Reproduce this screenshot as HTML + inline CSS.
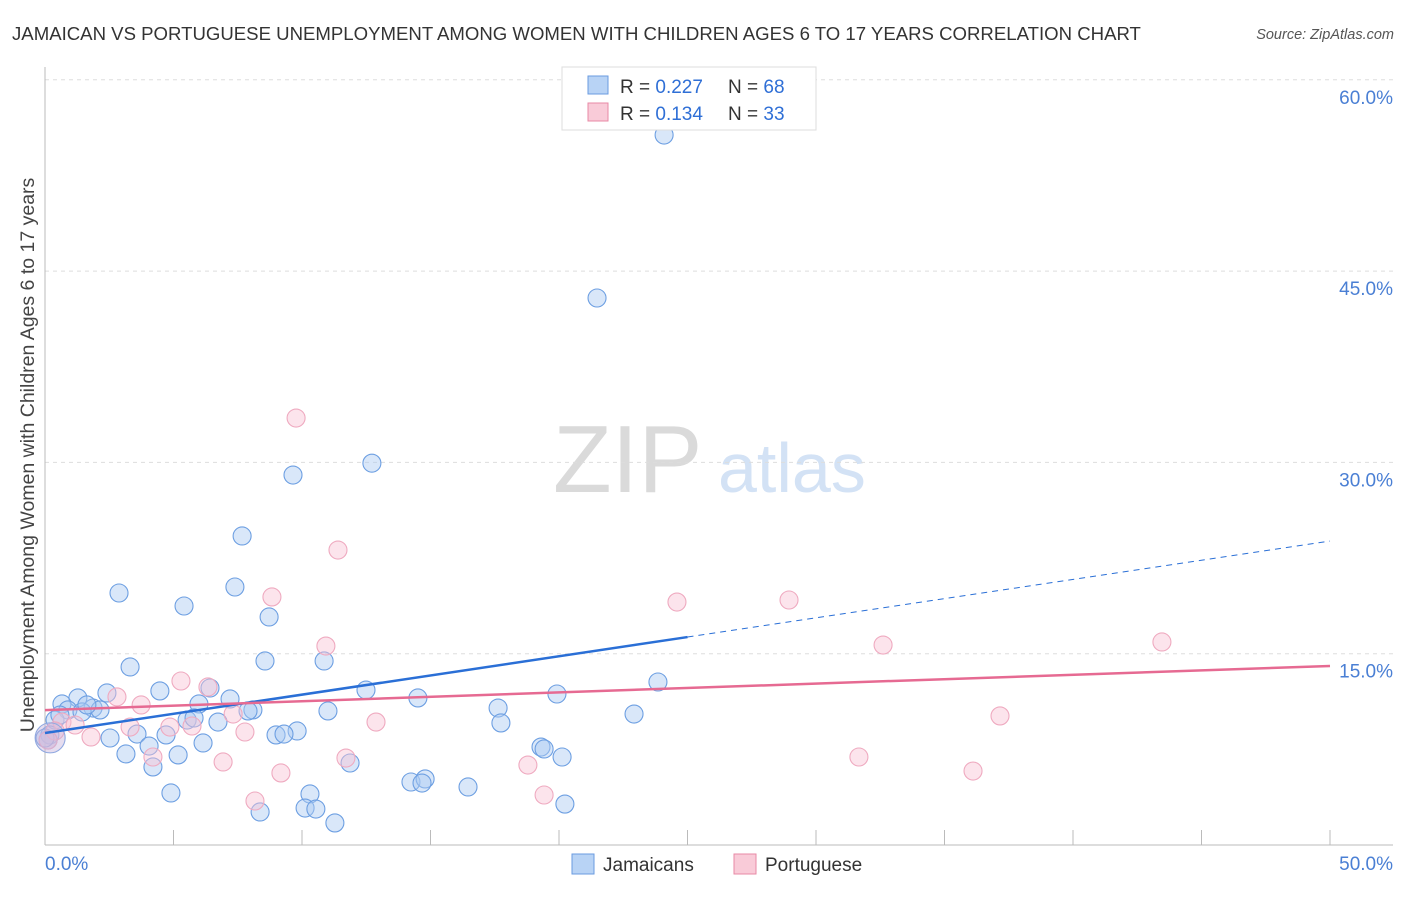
<!DOCTYPE html>
<html><head><meta charset="utf-8"><style>
body{margin:0;background:#fff;font-family:"Liberation Sans",sans-serif;}
svg text{font-family:"Liberation Sans",sans-serif;}
</style></head><body>
<svg id="chart" width="1406" height="892">
<text x="12" y="40" font-size="18.6" fill="#333">JAMAICAN VS PORTUGUESE UNEMPLOYMENT AMONG WOMEN WITH CHILDREN AGES 6 TO 17 YEARS CORRELATION CHART</text>
<text x="1394" y="39" font-size="14.5" fill="#555" font-style="italic" text-anchor="end">Source: ZipAtlas.com</text>
<g>
<text x="553" y="492" font-size="96" fill="#dadada" font-family="Liberation Serif,serif">ZIP</text>
<text x="718" y="492" font-size="70" fill="#d3e2f5">atlas</text>
</g>
<g id="grid"></g>
<g id="axes"></g>
<g id="marks"></g>
<text transform="translate(34,455) rotate(-90)" font-size="19.5" fill="#444" text-anchor="middle">Unemployment Among Women with Children Ages 6 to 17 years</text>
<g>
<rect x="562" y="67" width="254" height="63" fill="#fff" stroke="#ddd"/>
<rect x="588" y="76" width="20" height="18" fill="#b8d3f5" stroke="#6a9be0"/>
<text x="620" y="93" font-size="19" fill="#333">R = <tspan fill="#2f6fd6">0.227</tspan></text>
<text x="728" y="93" font-size="19" fill="#333">N = <tspan fill="#2f6fd6">68</tspan></text>
<rect x="588" y="103" width="20" height="18" fill="#f9cbd8" stroke="#e88aa6"/>
<text x="620" y="120" font-size="19" fill="#333">R =  <tspan fill="#2f6fd6">0.134</tspan></text>
<text x="728" y="120" font-size="19" fill="#333">N = <tspan fill="#2f6fd6">33</tspan></text>
</g>
<g>
<rect x="572" y="854" width="22" height="20" fill="#b8d3f5" stroke="#6a9be0"/>
<text x="603" y="871" font-size="19" fill="#333">Jamaicans</text>
<rect x="734" y="854" width="22" height="20" fill="#f9cbd8" stroke="#e88aa6"/>
<text x="765" y="871" font-size="19" fill="#333">Portuguese</text>
</g>
</svg>
<script>
const yTicks=[15,30,45,60];
const yTickLabels=["15.0%","30.0%","45.0%","60.0%"];
const xTickLabels=["0.0%","50.0%"];
const blueX=[24.09,21.48,12.72,9.65,7.67,2.88,7.39,5.41,8.72,8.56,10.86,3.31,23.85,4.47,12.49,19.92,1.28,2.41,0.66,7.20,5.99,14.51,0.89,1.87,2.14,0.39,6.42,5.53,5.80,8.09,7.90,11.01,17.63,22.92,6.73,17.74,0.19,2.53,3.58,4.71,9.81,8.99,9.30,6.15,4.05,19.30,19.42,3.15,5.18,20.12,4.20,11.87,14.24,14.79,14.67,16.46,4.90,10.31,10.12,10.54,8.37,11.28,20.23,0.12,0.58,1.44,0,1.63];
const blueY=[55.67,42.89,29.94,29.01,24.23,19.76,20.23,18.74,17.88,14.43,14.43,13.96,12.78,12.08,12.15,11.84,11.53,11.92,11.06,11.45,11.06,11.53,10.59,10.74,10.59,9.80,12.31,9.80,9.96,10.59,10.51,10.51,10.74,10.27,9.64,9.57,8.63,8.39,8.70,8.63,8.94,8.63,8.70,8.00,7.76,7.68,7.53,7.14,7.06,6.90,6.12,6.43,4.94,5.18,4.86,4.55,4.08,4.00,2.90,2.82,2.59,1.73,3.21,8.23,10.19,10.43,8.39,10.98];
const pinkX=[9.77,11.40,8.83,24.59,28.95,32.61,43.46,10.93,5.29,6.34,2.80,3.74,7.32,7.78,12.88,5.72,4.86,1.79,3.31,0.66,0.39,37.16,18.79,11.71,31.67,6.93,9.18,36.11,4.20,8.17,19.42,0.12,1.17];
const pinkY=[33.48,23.13,19.45,19.05,19.21,15.68,15.92,15.60,12.86,12.39,11.61,10.98,10.27,8.86,9.64,9.33,9.25,8.47,9.25,9.64,8.94,10.12,6.27,6.82,6.90,6.51,5.65,5.80,6.90,3.45,3.92,8.23,9.41];
const blueFit=[8.78,0.301];
const pinkFit=[10.58,0.0692];
const blueSolidEnd=25;

const NS="http://www.w3.org/2000/svg";
const X0=45,X1=1330,Y0=845,YPX=191.3/15;
const sx=v=>X0+(X1-X0)*v/50;
const sy=v=>Y0-v*YPX;
function mk(tag,attrs,parent){const e=document.createElementNS(NS,tag);for(const k in attrs)e.setAttribute(k,attrs[k]);document.getElementById(parent).appendChild(e);return e;}

yTicks.forEach((t,i)=>{
 const g=mk('line',{x1:45,x2:1393,y1:sy(t),y2:sy(t),stroke:'#ddd','stroke-dasharray':'4,4'},'grid');
 
 
 const l=mk('text',{x:1393,y:sy(t)+24,'font-size':19,fill:'#4a7fd4','text-anchor':'end'},'axes');
 l.textContent=yTickLabels[i];
 
 
});
const ya=mk('line',{x1:45,x2:45,y1:67,y2:845,stroke:'#bbb'},'axes');


const xa=mk('line',{x1:45,x2:1393,y1:845,y2:845,stroke:'#bbb'},'axes');


for(let i=1;i<=10;i++){
 const t=mk('line',{x1:sx(i*5),x2:sx(i*5),y1:830,y2:845,stroke:'#bbb'},'axes');
 
 
}
[[0,'start',45],[50,'end',1393]].forEach((d,i)=>{
 const l=mk('text',{x:d[2],y:870,'font-size':19,fill:'#4a7fd4','text-anchor':d[1]},'axes');
 l.textContent=xTickLabels[i];
 
 
});
blueX.forEach((x,i)=>{
 const c=mk('circle',{cx:sx(x),cy:sy(blueY[i]),r:9,fill:'rgba(170,202,242,0.45)',stroke:'#6d9fe2','stroke-width':1.1},'marks');
 
 
});
pinkX.forEach((x,i)=>{
 const c=mk('circle',{cx:sx(x),cy:sy(pinkY[i]),r:9,fill:'rgba(248,196,212,0.45)',stroke:'#efaac0','stroke-width':1.1},'marks');
 
 
});
const big=mk('circle',{cx:sx(0.2),cy:sy(8.4),r:15,fill:'rgba(200,180,220,0.45)',stroke:'#8fa8e0','stroke-width':1.1},'marks');


const bf=x=>blueFit[0]+blueFit[1]*x, pf=x=>pinkFit[0]+pinkFit[1]*x;
const bl=mk('line',{x1:sx(0),y1:sy(bf(0)),x2:sx(blueSolidEnd),y2:sy(bf(blueSolidEnd)),stroke:'#2a6fd6','stroke-width':2.5},'marks');


const bd=mk('line',{x1:sx(blueSolidEnd),y1:sy(bf(blueSolidEnd)),x2:sx(50),y2:sy(bf(50)),stroke:'#2a6fd6','stroke-width':1,'stroke-dasharray':'6,5'},'marks');


const pl=mk('line',{x1:sx(0),y1:sy(pf(0)),x2:sx(50),y2:sy(pf(50)),stroke:'#e66a92','stroke-width':2.5},'marks');


</script>
</body></html>
